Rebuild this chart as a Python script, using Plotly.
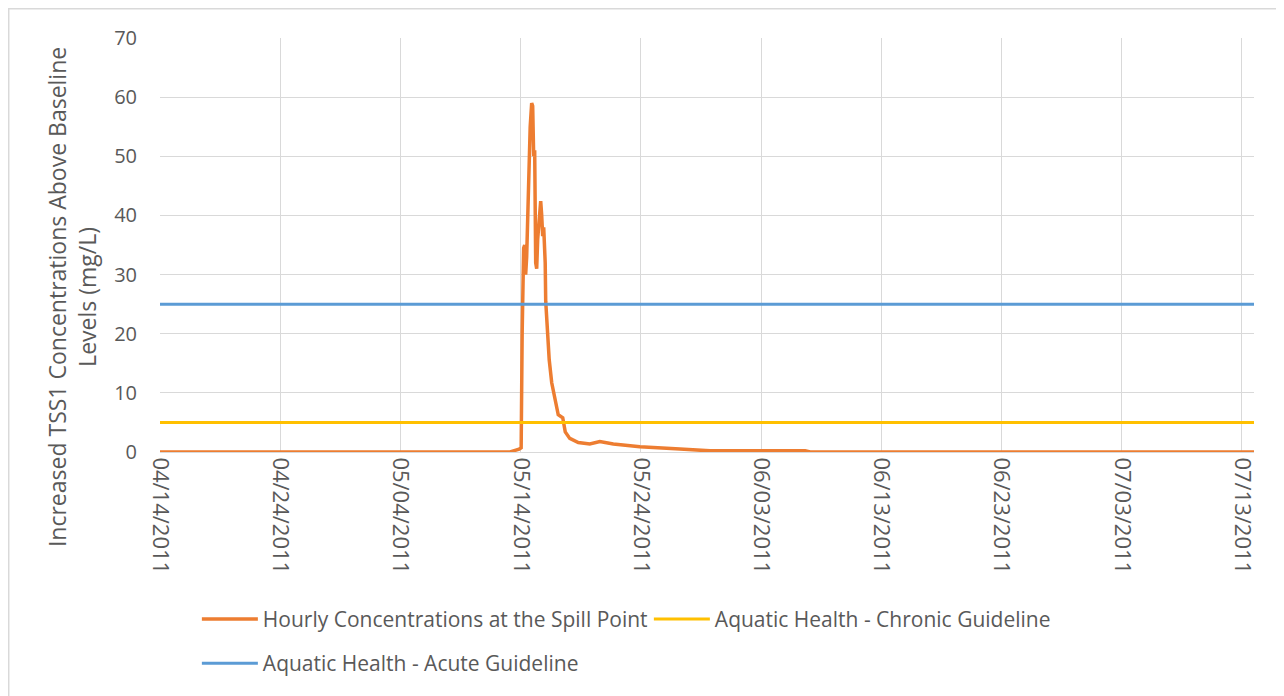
import plotly.graph_objs as go

# hourly TSS1 increase at the spill point
spill_times = [
    "2011-04-14 00:00", "2011-05-13 03:00", "2011-05-13 21:00", "2011-05-14 01:00",
    "2011-05-14 03:00", "2011-05-14 04:00", "2011-05-14 06:00", "2011-05-14 08:00",
    "2011-05-14 10:00", "2011-05-14 12:00", "2011-05-14 15:00", "2011-05-14 19:00",
    "2011-05-14 22:00", "2011-05-15 00:00", "2011-05-15 02:00", "2011-05-15 04:00",
    "2011-05-15 06:00", "2011-05-15 08:00", "2011-05-15 10:00", "2011-05-15 13:00",
    "2011-05-15 16:00", "2011-05-15 18:00", "2011-05-15 20:00", "2011-05-15 22:00",
    "2011-05-16 01:00", "2011-05-16 02:00", "2011-05-16 04:00", "2011-05-16 09:00",
    "2011-05-16 14:00", "2011-05-16 21:00", "2011-05-17 03:00", "2011-05-17 12:00",
    "2011-05-17 17:00", "2011-05-18 02:00", "2011-05-18 19:00", "2011-05-19 18:00",
    "2011-05-20 14:00", "2011-05-21 17:00", "2011-05-23 22:00", "2011-05-27 06:00",
    "2011-05-29 18:00", "2011-06-06 16:00", "2011-06-07 02:00", "2011-07-14 00:00",
]
spill_values = [
    0, 0, 0.5, 0.7,
    20, 30, 34.5, 35.0,
    30, 33, 45, 55,
    59, 58.5, 50, 51,
    32, 31, 36, 40,
    42.4, 40, 36.5, 38,
    32, 25.5, 22.3, 15.6,
    11.7, 8.8, 6.3, 5.8,
    3.4, 2.3, 1.6, 1.35,
    1.75, 1.35, 0.9, 0.5,
    0.2, 0.2, 0, 0,
]

guide_times = ["2011-04-14 00:00", "2011-07-14 00:00"]
chronic_guideline = [5, 5]
acute_guideline = [25, 25]

y_title = "Increased TSS1 Concentrations Above Baseline<br>Levels (mg/L)"
font_family = "Open Sans, Lato, sans-serif"
text_color = "#595959"
grid_color = "#D9D9D9"

fig = go.Figure([
    go.Scatter(
        name="Hourly Concentrations at the Spill Point",
        x=spill_times,
        y=spill_values,
        mode="lines",
        line=dict(color="#ED7D31", width=3.5),
        legend="legend",
    ),
    go.Scatter(
        name="Aquatic Health - Chronic Guideline",
        x=guide_times,
        y=chronic_guideline,
        mode="lines",
        line=dict(color="#FFC000", width=3),
        legend="legend",
    ),
    go.Scatter(
        name="Aquatic Health - Acute Guideline",
        x=guide_times,
        y=acute_guideline,
        mode="lines",
        line=dict(color="#5B9BD5", width=3),
        legend="legend2",
    ),
])

# the html page has an 8px body margin, so the figure is a bit smaller
fig.update_layout(
    width=1276,
    height=688,
    margin=dict(l=152, r=30, t=30, b=244),
    plot_bgcolor="white",
    paper_bgcolor="white",
    font=dict(family=font_family, size=21, color=text_color),
    legend=dict(
        orientation="h",
        x=0.0337, y=-0.404,
        xanchor="left", yanchor="middle",
        entrywidth=381, entrywidthmode="pixels",
        font=dict(size=21, color=text_color),
        itemwidth=56,
    ),
    legend2=dict(
        orientation="h",
        x=0.0337, y=-0.511,
        xanchor="left", yanchor="middle",
        font=dict(size=21, color=text_color),
        itemwidth=56,
    ),
)

fig.update_xaxes(
    type="date",
    range=["2011-04-14", "2011-07-14"],
    tick0="2011-04-14",
    dtick=10 * 24 * 3600 * 1000,
    tickformat="%m/%d/%Y",
    tickangle=90,
    showgrid=True,
    gridcolor=grid_color,
    gridwidth=1,
    showline=True,
    linecolor=grid_color,
    zeroline=False,
    ticks="",
    tickfont=dict(size=22, color=text_color),
)
fig.update_yaxes(
    range=[0, 70],
    dtick=10,
    showgrid=True,
    gridcolor=grid_color,
    gridwidth=1,
    zeroline=False,
    ticks="",
    ticklabelstandoff=22,
    tickfont=dict(size=20, color=text_color),
)

# axis title placed by hand, Excel centres it a bit lower than the plot area
fig.add_annotation(
    text=y_title,
    xref="paper", yref="paper",
    x=-0.0805, y=0.374,
    xanchor="center", yanchor="middle",
    textangle=-90,
    showarrow=False,
    font=dict(size=23, color=text_color),
)

# chart frame
fig.add_shape(
    type="rect",
    xref="paper", yref="paper",
    x0=-0.1385, x1=1.0238, y0=-0.6, y1=1.0713,
    line=dict(color=grid_color, width=2),
    layer="below",
)

fig.write_html("out.html")
